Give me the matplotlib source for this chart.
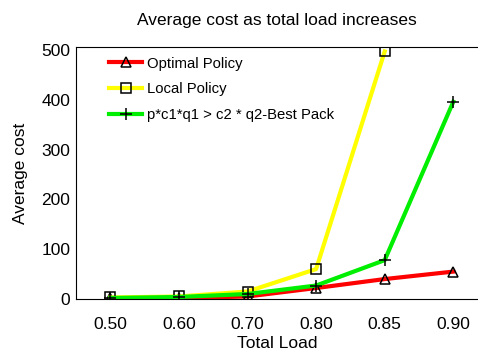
import matplotlib
matplotlib.use("Agg")
import matplotlib.pyplot as plt

plt.rcParams["font.family"] = ["Liberation Sans", "DejaVu Sans"]

loads = ["0.50", "0.60", "0.70", "0.80", "0.85", "0.90"]
optimal = [1, 2, 5, 22, 40, 55]
local = [3, 5, 15, 60, 497]
best_pack = [2, 4, 10, 27, 78, 396]

fig = plt.figure(figsize=(4.78, 3.52), dpi=100)
ax = fig.add_axes([0.159, 0.1506, 0.841, 0.716])

x = list(range(len(loads)))
ax.plot(x, optimal, color="red", lw=3, marker="^", ms=7,
        mfc="none", mec="black", mew=1.1, label="Optimal Policy")
ax.plot(x[:len(local)], local, color="yellow", lw=3, marker="s", ms=7,
        mfc="none", mec="black", mew=1.1, label="Local Policy")
ax.plot(x, best_pack, color="#00ee00", lw=3, marker="+", ms=8,
        mec="black", mew=1.1, label="p*c1*q1 > c2 * q2-Best Pack")

ax.set_xlim(-0.5, 5.36)
ax.set_ylim(0, 506)
ax.set_xticks(x)
ax.set_xticklabels(loads)
ax.set_yticks([0, 100, 200, 300, 400, 500])
ax.tick_params(length=0, labelsize=12.5)
ax.tick_params(axis="x", pad=13)
ax.tick_params(axis="y", pad=4)

ax.spines["right"].set_visible(False)

ax.set_title("Average cost as total load increases", fontsize=12.5, pad=16)
ax.set_xlabel("Total Load", fontsize=12.5, labelpad=3)
ax.set_ylabel("Average cost", fontsize=12.5, labelpad=10)

ax.legend(loc="upper left", frameon=False, fontsize=10.7, handlelength=2.2,
          handletextpad=0.3, bbox_to_anchor=(0.05, 1.015), labelspacing=0.78)

fig.savefig("out.png", dpi=100)
